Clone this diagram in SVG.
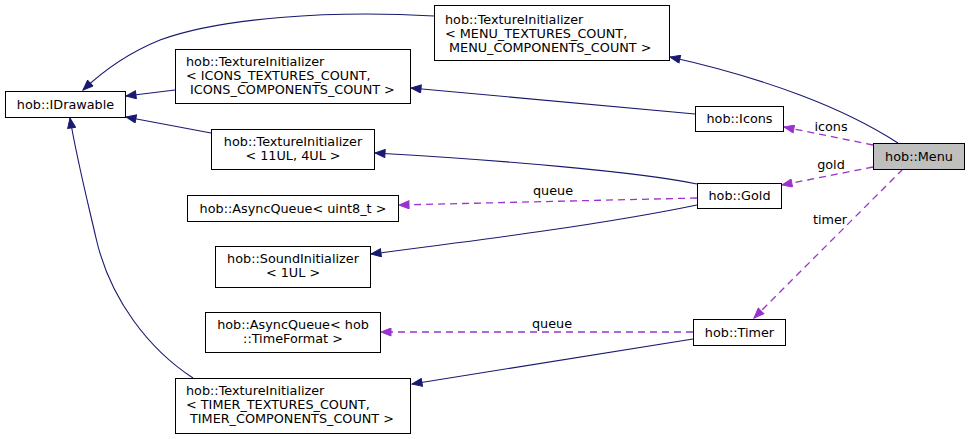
<svg xmlns="http://www.w3.org/2000/svg" width="969" height="439" viewBox="0 0 969 439">
<style>
text{font-family:"DejaVu Sans",sans-serif;font-size:12.8px;fill:#000}
.n rect{fill:#fff;stroke:#000;stroke-width:1}
.c{text-anchor:middle}
.inh{fill:none;stroke:#191970;stroke-width:1.1;marker-end:url(#ah)}
.use{fill:none;stroke:#9a32cd;stroke-width:1.3;stroke-dasharray:7,5;marker-end:url(#ap)}
</style>
<defs>
<marker id="ah" markerUnits="userSpaceOnUse" markerWidth="12" markerHeight="9" refX="11" refY="4.5" orient="auto" viewBox="0 0 12 9">
<path d="M1,0.5 L11,4.5 L1,8.5 z" fill="#191970" stroke="#191970"/>
</marker>
<marker id="ap" markerUnits="userSpaceOnUse" markerWidth="12" markerHeight="9" refX="11" refY="4.5" orient="auto" viewBox="0 0 12 9">
<path d="M1,0.5 L11,4.5 L1,8.5 z" fill="#9a32cd" stroke="#9a32cd" stroke-dasharray="none"/>
</marker>
</defs>
<rect width="969" height="439" fill="#fff"/>
<g id="connectors">
<path class="inh" d="M434,16 C330,10 220,18 160,40 C128,53 102,72 83,90"/>
<path class="inh" d="M175,90 L126,96"/>
<path class="inh" d="M211,133 L126,117"/>
<path class="inh" d="M193,378 C150,350 110,300 96,238 C86,195 76,155 70,118"/>
<path class="inh" d="M898,143 C870,125 840,110 800,95 C760,80 720,68 670,57"/>
<path class="inh" d="M695,114 L411,88"/>
<path class="inh" d="M697,184 C640,172 500,160 375,153"/>
<path class="inh" d="M697,205 C600,225 480,240 371,254"/>
<path class="inh" d="M693,339 L412,384"/>
<path class="use" d="M697,198 L399,205"/>
<path class="use" d="M873,145 L784,127"/>
<path class="use" d="M873,167 L782,185"/>
<path class="use" d="M903,169 L754,318"/>
<path class="use" d="M693,332 L381,332"/>
<text class="c" x="553" y="195">queue</text>
<text class="c" x="831" y="131">icons</text>
<text class="c" x="831" y="169">gold</text>
<text class="c" x="830" y="224">timer</text>
<text class="c" x="552" y="328">queue</text>
</g>
<g id="idrawable" class="n"><rect x="5.5" y="91.5" width="120" height="26"/><text class="c" x="65.5" y="108.5">hob::IDrawable</text></g>
<g id="ti-menu" class="n"><rect x="434.5" y="5.5" width="235" height="55"/>
<text x="445" y="23.5">hob::TextureInitializer</text>
<text x="445" y="37.5">&lt; MENU_TEXTURES_COUNT,</text>
<text x="449" y="51.5">MENU_COMPONENTS_COUNT &gt;</text></g>
<g id="ti-icons" class="n"><rect x="175.5" y="49.5" width="235" height="54"/>
<text x="186" y="66">hob::TextureInitializer</text>
<text x="186" y="80">&lt; ICONS_TEXTURES_COUNT,</text>
<text x="190" y="94">ICONS_COMPONENTS_COUNT &gt;</text></g>
<g id="ti-11ul" class="n"><rect x="211.5" y="129.5" width="163" height="40"/>
<text class="c" x="293" y="145.5">hob::TextureInitializer</text>
<text class="c" x="293" y="159.5">&lt; 11UL, 4UL &gt;</text></g>
<g id="aq-uint8" class="n"><rect x="187.5" y="195.5" width="211" height="26"/>
<text class="c" x="293" y="213">hob::AsyncQueue&lt; uint8_t &gt;</text></g>
<g id="sound" class="n"><rect x="215.5" y="246.5" width="155" height="41"/>
<text class="c" x="293" y="263">hob::SoundInitializer</text>
<text class="c" x="293" y="277">&lt; 1UL &gt;</text></g>
<g id="aq-time" class="n"><rect x="205.5" y="312.5" width="175" height="40"/>
<text class="c" x="293" y="328.5">hob::AsyncQueue&lt; hob</text>
<text class="c" x="293" y="342.5">::TimeFormat &gt;</text></g>
<g id="ti-timer" class="n"><rect x="175.5" y="378.5" width="235" height="55"/>
<text x="186" y="394.5">hob::TextureInitializer</text>
<text x="186" y="408.5">&lt; TIMER_TEXTURES_COUNT,</text>
<text x="190" y="422.5">TIMER_COMPONENTS_COUNT &gt;</text></g>
<g id="icons" class="n"><rect x="695.5" y="106.5" width="88" height="25"/>
<text class="c" x="739.5" y="123">hob::Icons</text></g>
<g id="gold" class="n"><rect x="697.5" y="183.5" width="84" height="25"/>
<text class="c" x="739.5" y="200">hob::Gold</text></g>
<g id="timer" class="n"><rect x="693.5" y="319.5" width="92" height="26"/>
<text class="c" x="739.5" y="336.5">hob::Timer</text></g>
<g id="menu"><rect x="873.5" y="143.5" width="91" height="26" fill="#bfbfbf" stroke="#000"/>
<text class="c" x="919" y="160.5">hob::Menu</text></g>
</svg>
